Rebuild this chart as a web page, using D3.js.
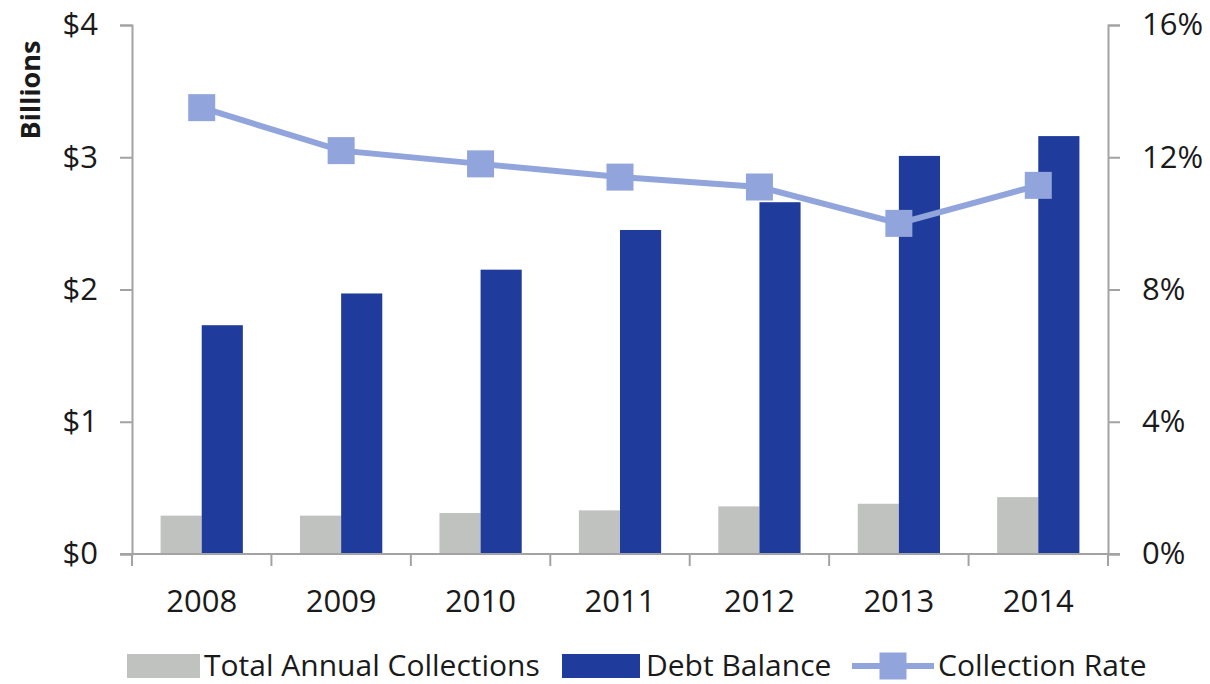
<!DOCTYPE html>
<html>
<head>
<meta charset="utf-8">
<script src="https://cdn.jsdelivr.net/npm/d3@7"></script>
<style>
  html, body { margin: 0; padding: 0; background: #fff; }
  svg { display: block; }
  text { font-family: "Open Sans", "Liberation Sans", sans-serif; fill: #1a1a1a; }
</style>
</head>
<body>
<svg id="chart" width="1210" height="684"></svg>
<script>
// Annual debt data, 2008–2014
const years = ["2008", "2009", "2010", "2011", "2012", "2013", "2014"];
const collections = [0.29, 0.29, 0.31, 0.33, 0.36, 0.38, 0.43];   // $ billions
const debtBalance = [1.73, 1.97, 2.15, 2.45, 2.66, 3.01, 3.16];   // $ billions
const collectionRate = [13.5, 12.2, 11.8, 11.4, 11.1, 10.0, 11.15]; // percent
const leftTicks = [0, 1, 2, 3, 4];
const rightTicks = [0, 4, 8, 12, 16];

const colors = { collections: "#c0c2c0", debt: "#1f3b9b", rate: "#91a4dc", axis: "#a3a3a3" };

const svg = d3.select("#chart");
const plot = { left: 132, right: 1108, top: 25, bottom: 554 };

const x = d3.scaleBand().domain(years).range([plot.left, plot.right]);
const inner = d3.scaleBand().domain(["collections", "debt"])
  .range([x.bandwidth() * 0.205, x.bandwidth() * 0.795]);
const yLeft = d3.scaleLinear().domain([0, 4]).range([plot.bottom, plot.top]);
const yRight = d3.scaleLinear().domain([0, 16]).range([plot.bottom, plot.top]);

// Bars
const groups = svg.append("g").selectAll("g").data(years).join("g")
  .attr("transform", d => `translate(${x(d)},0)`);
groups.append("rect")
  .attr("x", inner("collections")).attr("width", inner.bandwidth())
  .attr("y", (d, i) => yLeft(collections[i]))
  .attr("height", (d, i) => yLeft(0) - yLeft(collections[i]))
  .attr("fill", colors.collections);
groups.append("rect")
  .attr("x", inner("debt")).attr("width", inner.bandwidth())
  .attr("y", (d, i) => yLeft(debtBalance[i]))
  .attr("height", (d, i) => yLeft(0) - yLeft(debtBalance[i]))
  .attr("fill", colors.debt);

// Axes
const axisStyle = g => {
  g.selectAll(".domain").attr("stroke", colors.axis).attr("stroke-width", 2);
  g.selectAll(".tick line").attr("stroke", colors.axis).attr("stroke-width", 2);
  g.selectAll(".tick text").style("font-size", "31px").attr("fill", "#1a1a1a");
};

svg.append("g").attr("transform", `translate(${plot.left},0)`)
  .call(d3.axisLeft(yLeft).tickValues(leftTicks).tickFormat(d => "$" + d)
    .tickSizeInner(12).tickSizeOuter(12).tickPadding(22))
  .call(axisStyle);

svg.append("g").attr("transform", `translate(${plot.right},0)`)
  .call(d3.axisRight(yRight).tickValues(rightTicks).tickFormat(d => d + "%")
    .tickSizeInner(12).tickSizeOuter(12).tickPadding(22))
  .call(axisStyle);

// Category axis with ticks on band boundaries
const xAxis = svg.append("g").attr("transform", `translate(0,${plot.bottom})`);
xAxis.append("line")
  .attr("x1", plot.left - 12).attr("x2", plot.right + 12)
  .attr("y1", 0).attr("y2", 0)
  .attr("stroke", colors.axis).attr("stroke-width", 2);
xAxis.selectAll(".bt").data(years.concat([null])).join("line")
  .attr("x1", (d, i) => plot.left + i * x.step())
  .attr("x2", (d, i) => plot.left + i * x.step())
  .attr("y1", 0).attr("y2", 12)
  .attr("stroke", colors.axis).attr("stroke-width", 2);
xAxis.selectAll(".lbl").data(years).join("text")
  .attr("x", d => x(d) + x.bandwidth() / 2)
  .attr("y", 58)
  .attr("text-anchor", "middle")
  .style("font-size", "31px")
  .text(d => d);

// Collection rate line
const pts = years.map((d, i) => [x(d) + x.bandwidth() / 2, yRight(collectionRate[i])]);
svg.append("path")
  .attr("d", d3.line()(pts))
  .attr("fill", "none").attr("stroke", colors.rate).attr("stroke-width", 6);
const ms = 27;
svg.append("g").selectAll("rect").data(pts).join("rect")
  .attr("x", d => d[0] - ms / 2).attr("y", d => d[1] - ms / 2)
  .attr("width", ms).attr("height", ms)
  .attr("fill", colors.rate);

// Axis title
svg.append("text")
  .attr("transform", "translate(40,90) rotate(-90)")
  .attr("text-anchor", "middle")
  .style("font-size", "27px").style("font-weight", "bold")
  .text("Billions");

// Legend
const legend = svg.append("g");
const ly = 666;
legend.append("rect").attr("x", 127).attr("y", ly - 12).attr("width", 73).attr("height", 24).attr("fill", colors.collections);
legend.append("text").attr("x", 204).attr("y", ly + 10).style("font-size", "30px").text("Total Annual Collections");
legend.append("rect").attr("x", 562).attr("y", ly - 12).attr("width", 78).attr("height", 24).attr("fill", colors.debt);
legend.append("text").attr("x", 646).attr("y", ly + 10).style("font-size", "30px").text("Debt Balance");
legend.append("line").attr("x1", 852).attr("x2", 934).attr("y1", ly).attr("y2", ly)
  .attr("stroke", colors.rate).attr("stroke-width", 6);
legend.append("rect").attr("x", 893 - ms / 2).attr("y", ly - ms / 2).attr("width", ms).attr("height", ms).attr("fill", colors.rate);
legend.append("text").attr("x", 938).attr("y", ly + 10).style("font-size", "30px").text("Collection Rate");
</script>
</body>
</html>
